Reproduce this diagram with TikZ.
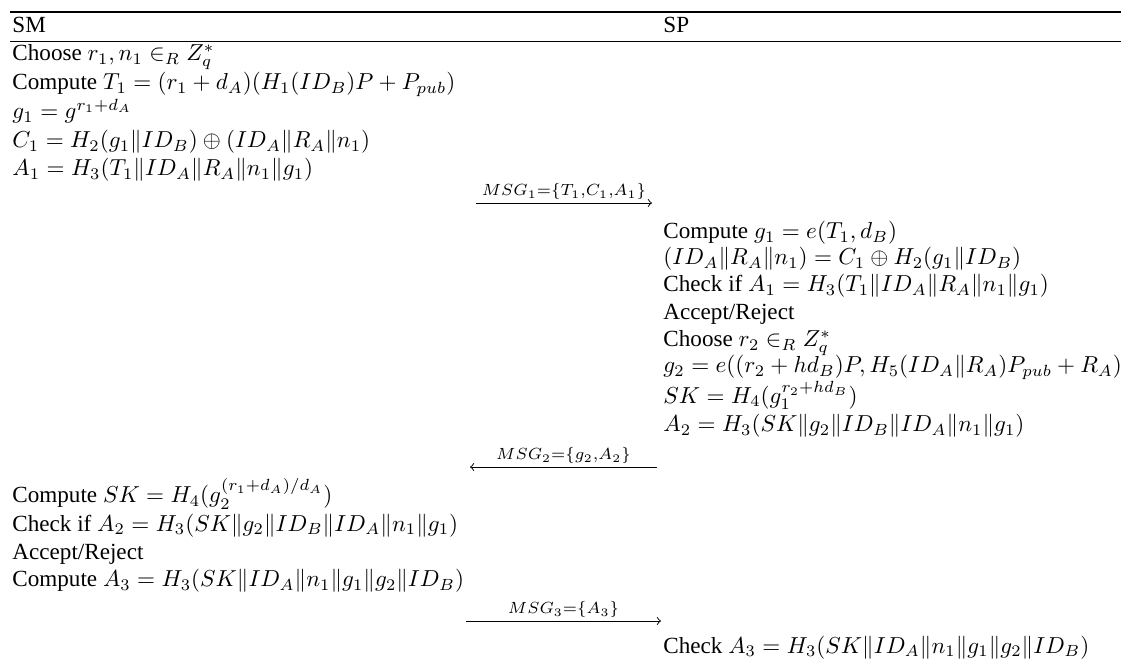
\documentclass[tikz,border=0pt]{standalone}
\usepackage[no-math]{fontspec}
\setmainfont{Liberation Serif}
\begin{document}
\begin{tikzpicture}[x=0.4325pt,y=-0.4325pt,
  txt/.style={anchor=base west,inner sep=0pt,font=\fontsize{10}{12}\selectfont},
  msglabel/.style={anchor=south,inner sep=1.2pt,font=\fontsize{10}{12}\selectfont},
  rule/.style={line width=0.5pt},
  msgarrow/.style={->,line width=0.4pt}]
\useasboundingbox (0,0) rectangle (1121,661);
% rules
\coordinate (r1l) at (10,12); \coordinate (r1r) at (1121,12);
\coordinate (r2l) at (10,41); \coordinate (r2r) at (1121,41);
\draw[rule] (r1l) -- (r1r);
\draw[rule,line width=0.4pt] (r2l) -- (r2r);
% headers
\node[txt] (sm) at (12,33) {SM};
\node[txt] (sp) at (663,33) {SP};
% SM first block
\node[txt] (a1) at (12,61) {Choose $r_1, n_1 \in_R Z_q^*$};
\node[txt] (a2) at (12,90) {Compute $T_1 = (r_1 + d_A)(H_1(ID_B)P + P_{pub})$};
\node[txt] (a3) at (12,119) {$g_1 = g^{r_1 + d_A}$};
\node[txt] (a4) at (12,148) {$C_1 = H_2(g_1\|ID_B) \oplus (ID_A\|R_A\|n_1)$};
\node[txt] (a5) at (12,176) {$A_1 = H_3(T_1\|ID_A\|R_A\|n_1\|g_1)$};
% MSG1
\coordinate (m1s) at (476,203); \coordinate (m1e) at (652,203);
\draw[msgarrow] (m1s) -- node[msglabel] (l1) {$\scriptstyle MSG_1{=}\{T_1{,}C_1{,}A_1\}$} (m1e);
% SP block
\node[txt] (b1) at (663,239) {Compute $g_1 = e(T_1, d_B)$};
\node[txt] (b2) at (663,265) {$(ID_A\|R_A\|n_1) = C_1 \oplus H_2(g_1\|ID_B)$};
\node[txt] (b3) at (663,292) {Check if $A_1 = H_3(T_1\|ID_A\|R_A\|n_1\|g_1)$};
\node[txt] (b4) at (663,320) {Accept/Reject};
\node[txt] (b5) at (663,347) {Choose $r_2 \in_R Z_q^*$};
\node[txt] (b6) at (663,373) {$g_2 = e((r_2 + hd_B)P, H_5(ID_A\|R_A)P_{pub} + R_A)$};
\node[txt] (b7) at (663,403) {$SK = H_4(g_1^{r_2 + hd_B})$};
\node[txt] (b8) at (663,432) {$A_2 = H_3(SK\|g_2\|ID_B\|ID_A\|n_1\|g_1)$};
% MSG2
\coordinate (m2s) at (657,467); \coordinate (m2e) at (470,467);
\draw[msgarrow] (m2s) -- node[msglabel] (l2) {$\scriptstyle MSG_2{=}\{g_2{,}A_2\}$} (m2e);
% SM second block
\node[txt] (c1) at (12,503) {Compute $SK = H_4(g_2^{(r_1+d_A)/d_A})$};
\node[txt] (c2) at (12,531) {Check if $A_2 = H_3(SK\|g_2\|ID_B\|ID_A\|n_1\|g_1)$};
\node[txt] (c3) at (12,559) {Accept/Reject};
\node[txt] (c4) at (12,587) {Compute $A_3 = H_3(SK\|ID_A\|n_1\|g_1\|g_2\|ID_B)$};
% MSG3
\coordinate (m3s) at (466,621); \coordinate (m3e) at (661,621);
\draw[msgarrow] (m3s) -- node[msglabel] (l3) {$\scriptstyle MSG_3{=}\{A_3\}$} (m3e);
% SP final
\node[txt] (d1) at (663,653) {Check $A_3 = H_3(SK\|ID_A\|n_1\|g_1\|g_2\|ID_B)$};
\end{tikzpicture}
\end{document}
